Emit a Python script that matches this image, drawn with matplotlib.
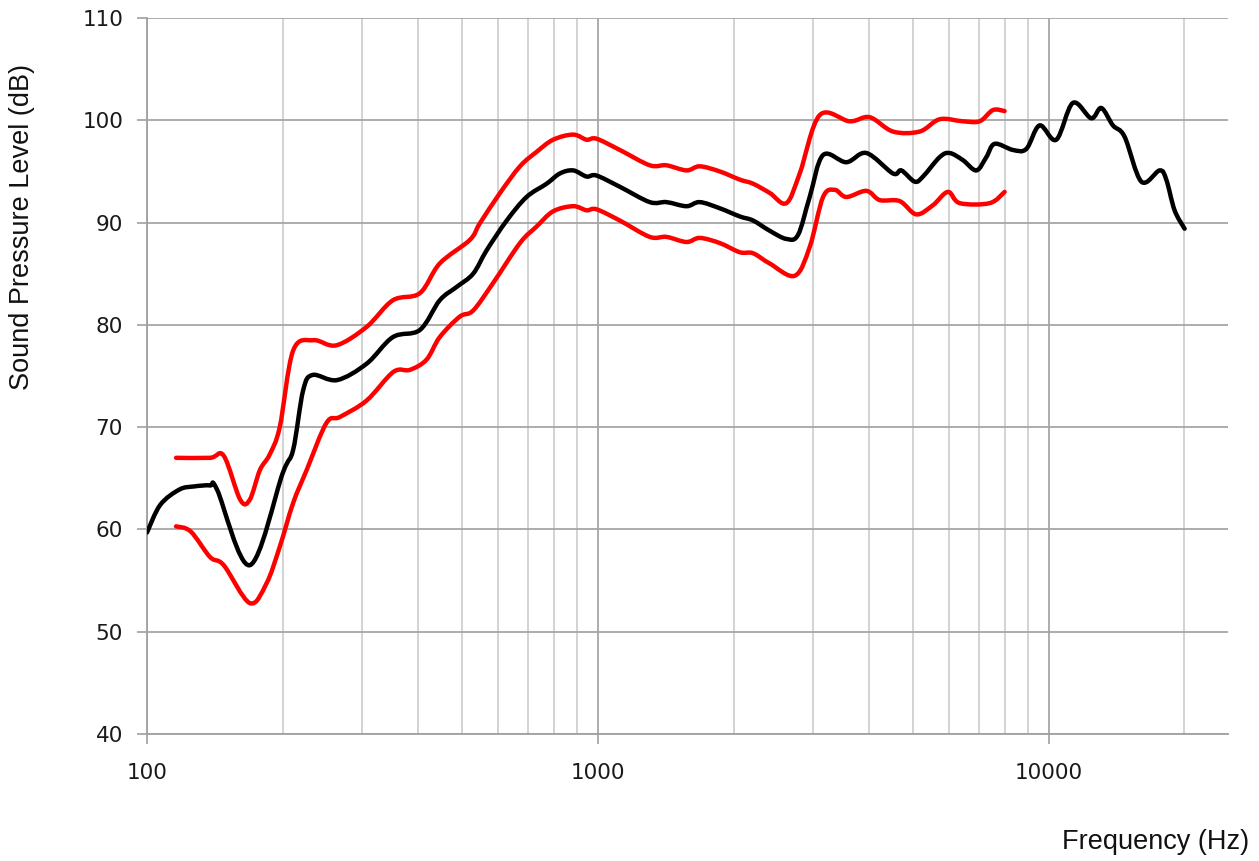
import matplotlib
matplotlib.use("Agg")
import numpy as np
import matplotlib.pyplot as plt
from matplotlib.path import Path
from matplotlib.patches import PathPatch
from matplotlib.ticker import FixedLocator, NullFormatter, FixedFormatter

# Average response (black)
avg_freq = [100, 107, 118, 127, 138, 143, 169, 200, 211, 222, 233, 264, 307, 351, 403,
            446, 486, 529, 567, 628, 695, 770, 824, 882, 944, 993, 1119, 1304, 1420,
            1573, 1683, 1864, 2065, 2210, 2406, 2620, 2781, 2951, 3160, 3559, 3943,
            4516, 4714, 5046, 5265, 5733, 6033, 6457, 6914, 7276, 7593, 8333, 8925,
            9550, 10400, 11320, 12430, 13090, 13890, 14740, 16060, 17630, 18240,
            19030, 20030]
avg_db = [59.7, 62.4, 63.9, 64.2, 64.3, 63.9, 56.5, 65.5, 67.8, 73.6, 75.1, 74.6, 76.2,
          78.8, 79.5, 82.4, 83.7, 85.0, 87.3, 90.2, 92.5, 93.8, 94.8, 95.1, 94.5, 94.6,
          93.5, 92.0, 92.0, 91.6, 92.0, 91.4, 90.6, 90.2, 89.2, 88.4, 88.8, 92.5, 96.6,
          95.9, 96.8, 94.8, 95.1, 94.0, 94.5, 96.4, 96.8, 96.1, 95.1, 96.4, 97.7, 97.1,
          97.2, 99.5, 98.1, 101.7, 100.2, 101.2, 99.5, 98.4, 94.0, 95.1, 94.2, 91.2, 89.4]

# Upper limit (red)
upper_freq = [116, 138, 148, 161, 169, 178, 187, 197, 211, 234, 263, 307, 351, 403, 446,
              520, 547, 607, 672, 731, 796, 882, 944, 993, 1119, 1304, 1420, 1573, 1683,
              1864, 2065, 2210, 2406, 2620, 2805, 3106, 3621, 4010, 4516, 5176, 5733,
              6457, 7031, 7525, 7987]
upper_db = [67.0, 67.0, 67.2, 62.9, 62.9, 65.8, 67.3, 70.0, 77.5, 78.5, 78.0, 79.8, 82.4,
            83.1, 86.0, 88.3, 89.9, 92.9, 95.5, 96.9, 98.1, 98.6, 98.1, 98.2, 97.1, 95.6,
            95.6, 95.1, 95.5, 95.0, 94.2, 93.8, 92.9, 91.9, 94.8, 100.5, 99.9, 100.3,
            98.9, 98.9, 100.1, 99.9, 99.9, 101.0, 100.9]

# Lower limit (red)
lower_freq = [116, 125, 138, 148, 169, 184, 197, 211, 226, 250, 268, 307, 352, 383, 417,
              446, 494, 529, 586, 672, 731, 796, 882, 944, 993, 1119, 1304, 1420, 1573,
              1683, 1864, 2065, 2210, 2406, 2735, 2951, 3160, 3354, 3559, 3943, 4220,
              4673, 5089, 5539, 5980, 6350, 7400, 7987]
lower_db = [60.3, 59.8, 57.3, 56.5, 52.8, 54.7, 58.3, 62.6, 65.8, 70.4, 71.0, 72.6, 75.4,
            75.6, 76.6, 78.8, 80.8, 81.4, 84.1, 88.0, 89.6, 91.1, 91.6, 91.2, 91.3, 90.2,
            88.6, 88.6, 88.1, 88.5, 88.0, 87.1, 87.0, 86.0, 84.8, 87.6, 92.5, 93.2, 92.5,
            93.1, 92.2, 92.1, 90.8, 91.7, 93.0, 91.9, 91.9, 93.0]

x_major = [100, 1000, 10000]
x_minor = [200, 300, 400, 500, 600, 700, 800, 900,
           2000, 3000, 4000, 5000, 6000, 7000, 8000, 9000, 20000]
y_ticks = [40, 50, 60, 70, 80, 90, 100, 110]


def smooth_path(freq, db):
    """Smoothed (Excel-like) line through the points as cubic Bezier segments,
    built in log-frequency space."""
    x = np.log10(np.asarray(freq, float))
    y = np.asarray(db, float)
    n = len(x)
    verts = [(freq[0], db[0])]
    codes = [Path.MOVETO]
    for i in range(n - 1):
        i0 = max(i - 1, 0)
        i3 = min(i + 2, n - 1)
        c1x = x[i] + (x[i + 1] - x[i0]) / 6.0
        c1y = y[i] + (y[i + 1] - y[i0]) / 6.0
        c2x = x[i + 1] - (x[i3] - x[i]) / 6.0
        c2y = y[i + 1] - (y[i3] - y[i]) / 6.0
        verts += [(10 ** c1x, c1y), (10 ** c2x, c2y), (freq[i + 1], db[i + 1])]
        codes += [Path.CURVE4] * 3
    return Path(verts, codes)


plt.rcParams['font.family'] = ['Liberation Sans', 'DejaVu Sans']

fig = plt.figure(figsize=(12.59, 8.61), dpi=100)
ax = fig.add_axes([147/1259, 1 - 734/861, (1228-147)/1259, (734-18)/861])

ax.set_xscale('log')
ax.set_xlim(100, 25000)
ax.set_ylim(40, 110)

for f, d, c, z in [(upper_freq, upper_db, '#ff0000', 3),
                   (lower_freq, lower_db, '#ff0000', 3),
                   (avg_freq, avg_db, '#000000', 4)]:
    ax.add_patch(PathPatch(smooth_path(f, d), fill=False, edgecolor=c, lw=3.2,
                           capstyle='round', joinstyle='round', zorder=z))

ax.xaxis.set_major_locator(FixedLocator(x_major))
ax.xaxis.set_minor_locator(FixedLocator(x_minor))
ax.xaxis.set_major_formatter(FixedFormatter([str(v) for v in x_major]))
ax.xaxis.set_minor_formatter(NullFormatter())
ax.yaxis.set_major_locator(FixedLocator(y_ticks))
ax.yaxis.set_major_formatter(FixedFormatter([str(v) for v in y_ticks]))

ax.grid(which='major', axis='both', color='#a6a6a6', lw=1.3, zorder=0)
ax.grid(which='minor', axis='x', color='#c8c8c8', lw=1.1, zorder=0)

for s in ['top', 'right']:
    ax.spines[s].set_visible(False)
for s in ['left', 'bottom']:
    ax.spines[s].set_color('#a0a0a0')
    ax.spines[s].set_linewidth(1.3)

ax.tick_params(axis='x', which='major', length=7.2, width=1.2, color='#a0a0a0',
               pad=14, labelcolor='#1a1a1a', labelsize=15.5,
               labelfontfamily='DejaVu Sans')
ax.tick_params(axis='x', which='minor', length=0)
ax.tick_params(axis='y', which='major', length=7.2, width=1.2, color='#a0a0a0',
               pad=10, labelcolor='#1a1a1a', labelsize=15.5,
               labelfontfamily='DejaVu Sans')

fig.text(1249/1259, 1 - 842/861, 'Frequency (Hz)', ha='right', va='center',
         fontsize=19.5, color='#111111')
fig.text(22/1259, 1 - 227/861, 'Sound Pressure Level (dB)', ha='center', va='center',
         rotation=90, fontsize=19.5, color='#111111')

fig.savefig('out.png', dpi=100)
